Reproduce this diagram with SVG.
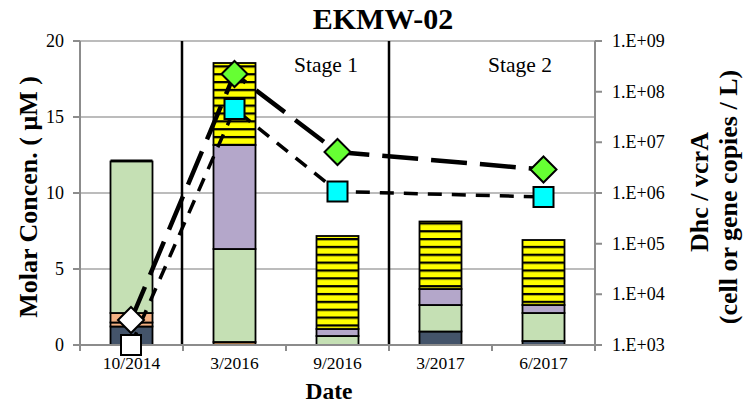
<svg xmlns="http://www.w3.org/2000/svg" xmlns:xlink="http://www.w3.org/1999/xlink" width="745" height="409" viewBox="0 0 745 409">
  <style>
    .grid { stroke: #A6A6A6; stroke-width: 1.5; fill: none; }
    .axis { stroke: #8C8C8C; stroke-width: 2; fill: none; }
    .seg { stroke: #000; stroke-width: 1.8; }
    .navy { fill: #44546A; }
    .orange { fill: #F4B183; }
    .green { fill: #C5E0B4; }
    .purple { fill: #B4A7CA; }
    .brown { fill: #9C6B3F; }
    .yellow { fill: url(#stripes); }
    .stage { stroke: #000; stroke-width: 2.5; }
    .dhc { stroke: #000; stroke-width: 4.5; fill: none; stroke-dasharray: 36 13; }
    .vcra { stroke: #000; stroke-width: 3.5; fill: none; stroke-dasharray: 14 10; }
    .tick { font-family: "Liberation Serif", "Times New Roman", serif; font-size: 18px; fill: #000; }
    .cat { font-family: "Liberation Serif", "Times New Roman", serif; font-size: 17.5px; fill: #000; text-anchor: middle; }
    .ttl { font-family: "Liberation Serif", "Times New Roman", serif; font-weight: bold; fill: #000; text-anchor: middle; }
    .stg { font-family: "Liberation Serif", "Times New Roman", serif; font-size: 21.5px; fill: #000; text-anchor: middle; }
  </style>
  <defs>
    <pattern id="stripes" patternUnits="userSpaceOnUse" x="0" y="238" width="10" height="7.85">
      <rect x="0" y="0" width="10" height="7.85" fill="#FFFF00"/>
      <rect x="0" y="0" width="10" height="2.3" fill="#000"/>
    </pattern>
    <polygon id="diamond" points="0,-13 13,0 0,13 -13,0" stroke="#000" stroke-width="2"/>
    <rect id="square" x="-10" y="-10" width="20" height="20" stroke="#000" stroke-width="2"/>
  </defs>

  <rect width="745" height="409" fill="#fff"/>

  <!-- gridlines -->
  <g id="gridlines">
    <line class="grid" x1="80" y1="41" x2="595" y2="41"/>
    <line class="grid" x1="80" y1="117" x2="595" y2="117"/>
    <line class="grid" x1="80" y1="193" x2="595" y2="193"/>
    <line class="grid" x1="80" y1="269" x2="595" y2="269"/>
  </g>

  <!-- stacked concentration bars -->
  <g id="bar-2014-10">
    <rect class="seg navy" x="110.5" y="326.5" width="42" height="18.5"/>
    <rect class="seg orange" x="110.5" y="322.5" width="42" height="4"/>
    <rect class="seg orange" x="110.5" y="313" width="42" height="9.5"/>
    <rect class="seg green" x="110.5" y="161.5" width="42" height="151.5"/>
    <rect x="110.5" y="159.5" width="42" height="2.5" fill="#000"/>
  </g>
  <g id="bar-2016-03">
    <rect class="seg brown" x="213.5" y="342" width="42" height="3"/>
    <rect class="seg green" x="213.5" y="249" width="42" height="93"/>
    <rect class="seg purple" x="213.5" y="145" width="42" height="104"/>
    <rect class="seg yellow" x="213.5" y="63" width="42" height="82"/>
  </g>
  <g id="bar-2016-09">
    <rect class="seg green" x="316.5" y="336" width="42" height="9"/>
    <rect class="seg purple" x="316.5" y="329" width="42" height="7"/>
    <rect class="seg yellow" x="316.5" y="236" width="42" height="93"/>
  </g>
  <g id="bar-2017-03">
    <rect class="seg navy" x="419.5" y="331.5" width="42" height="13.5"/>
    <rect class="seg green" x="419.5" y="305" width="42" height="26.5"/>
    <rect class="seg purple" x="419.5" y="289" width="42" height="16"/>
    <rect class="seg yellow" x="419.5" y="221.5" width="42" height="67.5"/>
  </g>
  <g id="bar-2017-06">
    <rect class="seg navy" x="522.5" y="341" width="42" height="4"/>
    <rect class="seg green" x="522.5" y="313" width="42" height="28"/>
    <rect class="seg purple" x="522.5" y="305" width="42" height="8"/>
    <rect class="seg yellow" x="522.5" y="240" width="42" height="65"/>
  </g>

  <!-- stage separators -->
  <g id="stages">
    <line class="stage" x1="182" y1="41" x2="182" y2="345"/>
    <line class="stage" x1="389" y1="41" x2="389" y2="345"/>
  </g>

  <!-- axes -->
  <g id="axes">
    <path class="axis" d="M80,41 V345 H595 V41"/>
    <path class="axis" d="M73,41 H80 M73,117 H80 M73,193 H80 M73,269 H80 M73,345 H80"/>
    <path class="axis" d="M595,41 H602 M595,91.7 H602 M595,142.3 H602 M595,193 H602 M595,243.7 H602 M595,294.3 H602 M595,345 H602"/>
    <path class="axis" d="M183,345 V351 M286,345 V351 M389,345 V351 M492,345 V351 M80,345 V351 M595,345 V351"/>
  </g>

  <!-- Dhc and vcrA series -->
  <g id="connectors">
    <polyline class="dhc" points="131,320 234.5,74 337.5,152 543.5,169.5"/>
    <polyline class="vcra" points="131,345 234.5,109 337.5,191.5 543.5,197"/>
  </g>
  <g id="markers">
    <use href="#square" xlink:href="#square" x="131" y="345" fill="#fff"/>
    <use href="#diamond" xlink:href="#diamond" x="131" y="320" fill="#fff"/>
    <use href="#square" xlink:href="#square" x="234.5" y="109" fill="#00FFFF"/>
    <use href="#diamond" xlink:href="#diamond" x="234.5" y="74" fill="#66FF33"/>
    <use href="#square" xlink:href="#square" x="337.5" y="191.5" fill="#00FFFF"/>
    <use href="#diamond" xlink:href="#diamond" x="337.5" y="152" fill="#66FF33"/>
    <use href="#square" xlink:href="#square" x="543.5" y="197" fill="#00FFFF"/>
    <use href="#diamond" xlink:href="#diamond" x="543.5" y="169.5" fill="#66FF33"/>
  </g>

  <!-- labels -->
  <g id="labels">
    <text class="ttl" x="383" y="29" font-size="30">EKMW-02</text>
    <text class="stg" x="326" y="72">Stage 1</text>
    <text class="stg" x="520" y="72">Stage 2</text>

    <g class="tick" text-anchor="end">
      <text x="64" y="47">20</text>
      <text x="64" y="123">15</text>
      <text x="64" y="199">10</text>
      <text x="64" y="275">5</text>
      <text x="64" y="351">0</text>
    </g>
    <g class="tick" text-anchor="start">
      <text x="612" y="47">1.E+09</text>
      <text x="612" y="97.7">1.E+08</text>
      <text x="612" y="148.3">1.E+07</text>
      <text x="612" y="199">1.E+06</text>
      <text x="612" y="249.7">1.E+05</text>
      <text x="612" y="300.3">1.E+04</text>
      <text x="612" y="351">1.E+03</text>
    </g>
    <g>
      <text class="cat" x="131.5" y="369">10/2014</text>
      <text class="cat" x="234.5" y="369">3/2016</text>
      <text class="cat" x="337.5" y="369">9/2016</text>
      <text class="cat" x="440.5" y="369">3/2017</text>
      <text class="cat" x="543.5" y="369">6/2017</text>
    </g>
    <text class="ttl" x="329" y="399" font-size="23.5">Date</text>
    <text class="ttl" font-size="26" transform="translate(37,197) rotate(-90)">Molar Concen. ( μM )</text>
    <text class="ttl" font-size="26" transform="translate(708,192) rotate(-90)">Dhc / vcrA</text>
    <text class="ttl" font-size="26" transform="translate(737,197) rotate(-90)">(cell or gene copies / L)</text>
  </g>
</svg>
